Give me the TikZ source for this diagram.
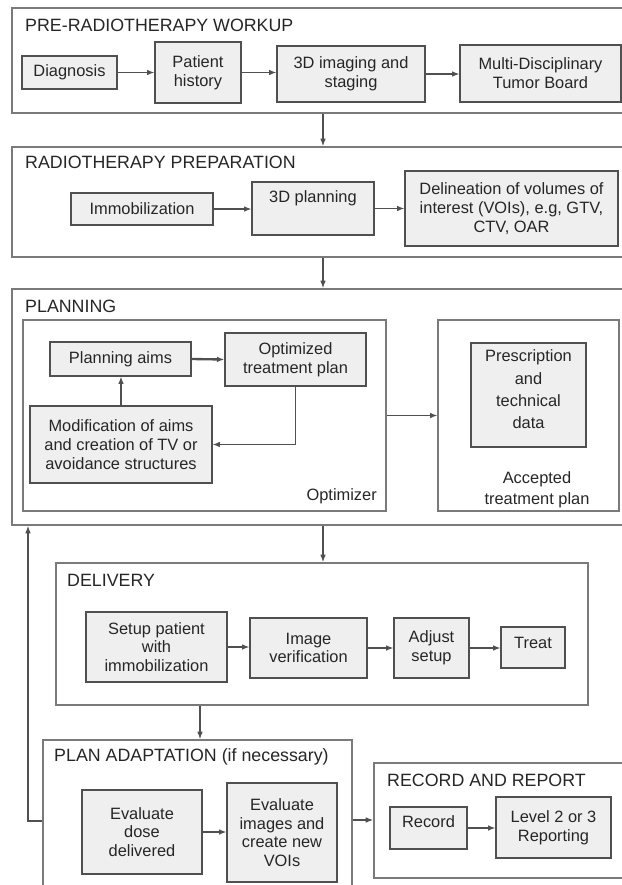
\documentclass[tikz,border=0pt]{standalone}
\usepackage{fontspec}
\setmainfont{Liberation Sans}
\usetikzlibrary{arrows.meta,positioning}
\newlength\px
\setlength\px{0.03cm}
\definecolor{boxfill}{HTML}{EFEFEF}
\definecolor{boxline}{HTML}{505050}
\definecolor{frameline}{HTML}{7A7A7A}

\begin{document}
\begin{tikzpicture}
[x=0.03cm, y=-0.03cm, font=\fontsize{14}{16}\selectfont, text=black!85,
>={Latex[length=2.2mm,width=1.7mm]},
frame/.style={rectangle, draw=frameline, line width=1.6pt, inner sep=0pt},
stage/.style={anchor=west, inner sep=0pt, font=\fontsize{15.2}{17}\selectfont},
box/.style={rectangle, draw=boxline, fill=boxfill, line width=1.1pt, inner sep=0pt, align=center},
note/.style={align=center, inner sep=0pt},
link/.style={draw=boxline, line width=1pt, ->}]

\clip (0,0) rectangle (622,885);
\useasboundingbox (0,0) rectangle (622,885);

% pre-radiotherapy workup
\node[frame, minimum width=613\px, minimum height=105\px] (workup) at (318.5,60.5) {};
\node[stage] (workupT) at (25,25) {PRE-RADIOTHERAPY WORKUP};
\node[box, minimum width=95\px, minimum height=33\px] (diag) at (69.5,72.5) {Diagnosis};
\node[box, minimum width=86\px, minimum height=61\px] (hist) at (198,72.5) {Patient\\history};
\node[box, minimum width=148\px, minimum height=56\px] (img3d) at (351,74) {3D imaging and\\staging};
\node[box, minimum width=161\px, minimum height=57\px] (board) at (540.5,73.5) {Multi-Disciplinary\\Tumor Board};

% radiotherapy preparation
\node[frame, minimum width=613\px, minimum height=110\px] (prep) at (318.5,202) {};
\node[stage] (prepT) at (25,162) {RADIOTHERAPY PREPARATION};
\node[box, minimum width=142\px, minimum height=32\px] (immob) at (142,209) {Immobilization};
\node[box, minimum width=122\px, minimum height=53\px] (plan3d) at (313,208.5) {};
\node[note] (plan3dT) at (313,198) {3D planning};
\node[box, minimum width=213\px, minimum height=75\px] (delin) at (511.5,208.5) {Delineation of volumes of\\interest (VOIs), e.g, GTV,\\CTV, OAR};

% planning
\node[frame, minimum width=613\px, minimum height=236\px] (plan) at (318.5,407) {};
\node[stage] (planT) at (25,306) {PLANNING};
\node[frame, line width=1.1pt, minimum width=363\px, minimum height=191\px] (optim) at (204.5,415.5) {};
\node[note, anchor=east] (optimT) at (377,496) {Optimizer};
\node[box, minimum width=141\px, minimum height=34\px] (aims) at (120.5,359) {Planning aims};
\node[box, minimum width=141\px, minimum height=53\px] (optplan) at (295.5,359.5) {Optimized\\treatment plan};
\node[box, minimum width=182\px, minimum height=77\px] (modif) at (121,444.5) {Modification of aims\\and creation of TV or\\avoidance structures};
\node[frame, line width=1.1pt, minimum width=181\px, minimum height=191\px] (accept) at (528.5,415.5) {};
\node[box, minimum width=115\px, minimum height=104\px] (presc) at (528.5,395) {};
\node[note, font=\fontsize{14}{19}\selectfont] (prescT) at (528.5,389.5) {Prescription\\and\\technical\\data};
\node[note, font=\fontsize{14}{18}\selectfont] (acceptT) at (537,489.5) {Accepted\\treatment plan};

% delivery
\node[frame, minimum width=532\px, minimum height=142\px] (deliv) at (322,634) {};
\node[stage] (delivT) at (67,580) {DELIVERY};
\node[box, minimum width=141\px, minimum height=70\px] (setup) at (156.5,647) {Setup patient\\with\\immobilization};
\node[box, minimum width=117\px, minimum height=60\px] (imgver) at (308.5,648) {Image\\verification};
\node[box, minimum width=75\px, minimum height=60\px] (adjust) at (431.5,648) {Adjust\\setup};
\node[box, minimum width=64\px, minimum height=41\px] (treat) at (533,647.5) {};
\node[note] (treatT) at (533,643) {Treat};

% plan adaptation
\node[frame, minimum width=309\px, minimum height=170\px] (adapt) at (197.5,825) {};
\node[stage] (adaptT) at (54,757) {PLAN ADAPTATION (if necessary)};
\node[box, minimum width=120\px, minimum height=84\px] (dose) at (142,832) {Evaluate\\dose\\delivered};
\node[box, minimum width=110\px, minimum height=99\px] (imgnew) at (282,832.5) {Evaluate\\images and\\create new\\VOIs};

% record and report
\node[frame, minimum width=252\px, minimum height=115\px] (report) at (500,820.5) {};
\node[stage] (reportT) at (387,780) {RECORD AND REPORT};
\node[box, minimum width=77\px, minimum height=42\px] (record) at (428.5,828) {};
\node[note] (recordT) at (428.5,822) {Record};
\node[box, minimum width=115\px, minimum height=61\px] (level) at (553.5,827.5) {Level 2 or 3\\Reporting};

% connectors
\draw[link] (diag.east) -- (diag.east -| hist.west);
\draw[link] (hist.east) -- (hist.east -| img3d.west);
\draw[link] (img3d.east) -- (img3d.east -| board.west);
\draw[link] (immob.east) -- (immob.east -| plan3d.west);
\draw[link] (plan3d.east) -- (plan3d.east -| delin.west);
\draw[link] (workup.south -| 323,0) -- (prep.north -| 323,0);
\draw[link] (prep.south -| 323,0) -- (plan.north -| 323,0);
\draw[link, line width=2pt] (aims.east) -- (optplan.west);
\draw[link] (modif.north) -- (modif.north |- aims.south);
\draw[link] (optplan.south) |- (modif.east);
\draw[link] (optim.east) -- (optim.east -| accept.west);
\draw[link] (plan.south -| 323,0) -- (deliv.north -| 323,0);
\draw[link] (setup.east) -- (setup.east -| imgver.west);
\draw[link] (imgver.east) -- (imgver.east -| adjust.west);
\draw[link] (adjust.east) -- (adjust.east -| treat.west);
\draw[link] (deliv.south -| 200,0) -- (adapt.north -| 200,0);
\draw[link] (dose.east) -- (dose.east -| imgnew.west);
\draw[link] (record.east) -- (record.east -| level.west);
\draw[link] (adapt.east |- 0,820) -- (report.west |- 0,820);
\draw[link] (adapt.west |- 0,821) -- (28,821) -- (plan.south -| 28,0);
\end{tikzpicture}
\end{document}
